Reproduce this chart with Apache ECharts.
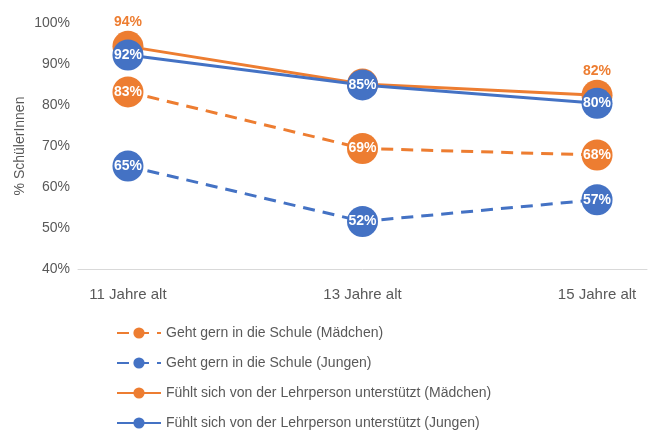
<!DOCTYPE html>
<html>
<head>
<meta charset="utf-8">
<script src="https://cdn.jsdelivr.net/npm/echarts@6/dist/echarts.min.js"></script>
<style>
  html, body { margin: 0; padding: 0; background: #fff; }
  #main { width: 651px; height: 435px; }
</style>
</head>
<body>
<div id="main"></div>
<script>
'use strict'
// categories and values (percent)
var ages = ['11 Jahre alt', '13 Jahre alt', '15 Jahre alt'];
var yTicks = [40, 50, 60, 70, 80, 90, 100];

var likesGirls = [83.2, 69.4, 67.8];
var likesBoys = [65.1, 51.6, 56.9];
var supportGirls = [94.3, 85.1, 82.4];
var supportBoys = [92.2, 84.9, 80.4];

var names = [
    'Geht gern in die Schule (Mädchen)',
    'Geht gern in die Schule (Jungen)',
    'Fühlt sich von der Lehrperson unterstützt (Mädchen)',
    'Fühlt sich von der Lehrperson unterstützt (Jungen)'
];

var orange = '#ED7D31';
var blue = '#4472C4';
var font = 'Liberation Sans';

function pct(p) {
    return Math.round(p.value[1]) + '%';
}

function lineSeries(name, values, color, dashed) {
    return {
        name: name,
        type: 'line',
        symbol: 'circle',
        symbolSize: 31,
        itemStyle: { color: color },
        lineStyle: { color: color, width: 3, type: dashed ? [12, 8] : 'solid' },
        label: {
            show: true,
            position: 'inside',
            color: '#fff',
            fontFamily: font,
            fontWeight: 'bold',
            fontSize: 14,
            formatter: pct
        },
        data: values.map(function (v, i) { return [i, v]; })
    };
}

// orange solid series: labels above the marker, middle one hidden behind blue
var topLabel = {
    show: true,
    position: 'top',
    distance: 2,
    color: orange,
    fontFamily: font,
    fontWeight: 'bold',
    fontSize: 14,
    formatter: pct
};
var girlsSupport = lineSeries(names[2], supportGirls, orange, false);
girlsSupport.label = topLabel;
girlsSupport.data = supportGirls.map(function (v, i) {
    return { value: [i, v], label: Object.assign({}, topLabel, { show: i !== 1 }) };
});

var option = {
    animation: false,
    backgroundColor: '#fff',
    textStyle: { fontFamily: font },
    grid: {
        left: 78,
        right: 4,
        top: 23,
        bottom: 166
    },
    legend: {
        orient: 'vertical',
        left: 116,
        top: 326,
        padding: 0,
        itemWidth: 44,
        itemHeight: 14,
        itemGap: 16,
        textStyle: { color: '#595959', fontSize: 14, fontFamily: font },
        data: names
    },
    xAxis: {
        type: 'value',
        min: -0.213,
        max: 2.213,
        axisLine: { show: true, lineStyle: { color: '#d9d9d9', width: 1 } },
        axisTick: { show: false },
        splitLine: { show: false },
        axisLabel: {
            customValues: [0, 1, 2],
            formatter: function (v) { return ages[Math.round(v)]; },
            color: '#595959',
            fontSize: 15,
            fontFamily: font,
            margin: 18
        }
    },
    yAxis: {
        type: 'value',
        min: yTicks[0],
        max: yTicks[yTicks.length - 1],
        interval: 10,
        name: '% SchülerInnen',
        nameLocation: 'middle',
        nameGap: 51,
        nameMoveOverlap: false,
        nameTextStyle: { color: '#595959', fontSize: 14, fontFamily: font },
        axisLine: { show: false },
        axisTick: { show: false },
        splitLine: { show: false },
        axisLabel: {
            formatter: '{value}%',
            color: '#595959',
            fontSize: 14,
            fontFamily: font,
            margin: 8
        }
    },
    series: [
        lineSeries(names[0], likesGirls, orange, true),
        lineSeries(names[1], likesBoys, blue, true),
        girlsSupport,
        lineSeries(names[3], supportBoys, blue, false)
    ]
};

var myChart = echarts.init(document.getElementById('main'));
myChart.setOption(option);
</script>
</body>
</html>
